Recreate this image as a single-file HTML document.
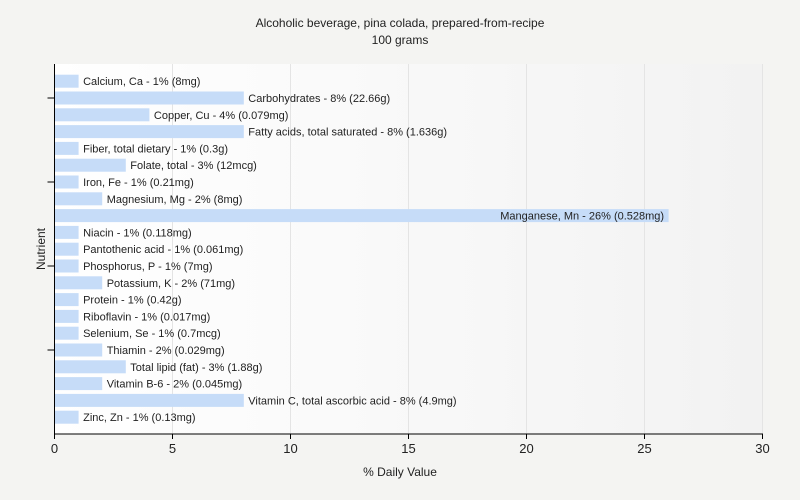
<!DOCTYPE html>
<html><head><meta charset="utf-8"><style>
body{margin:0;background:#f4f4f2;}
svg{display:block;font-family:"Liberation Sans",sans-serif;}
</style></head><body>
<svg id="chart" width="800" height="500" xmlns="http://www.w3.org/2000/svg">
<defs><linearGradient id="bg" x1="0" x2="1" y1="0" y2="0"><stop offset="0" stop-color="#ffffff"/><stop offset="1" stop-color="#f2f2f2"/></linearGradient></defs>
<rect width="800" height="500" fill="#f4f4f2"/>
<text x="400" y="27" text-anchor="middle" font-size="12" fill="#222">Alcoholic beverage, pina colada, prepared-from-recipe</text>
<text x="400" y="44" text-anchor="middle" font-size="12" fill="#222">100 grams</text>
<rect x="54.5" y="64" width="708" height="370" fill="url(#bg)"/>
<g id="grid"></g><g id="bars"></g><g id="axes"></g>
<text x="400" y="476" text-anchor="middle" font-size="12" fill="#222">% Daily Value</text>
<text transform="translate(45,249) rotate(-90)" text-anchor="middle" font-size="12" fill="#222">Nutrient</text>
</svg>
<script>
const categories=["Calcium, Ca","Carbohydrates","Copper, Cu","Fatty acids, total saturated","Fiber, total dietary","Folate, total","Iron, Fe","Magnesium, Mg","Manganese, Mn","Niacin","Pantothenic acid","Phosphorus, P","Potassium, K","Protein","Riboflavin","Selenium, Se","Thiamin","Total lipid (fat)","Vitamin B-6","Vitamin C, total ascorbic acid","Zinc, Zn"];
const values=[1,8,4,8,1,3,1,2,26,1,1,1,2,1,1,1,2,3,2,8,1];
const amounts=["8mg","22.66g","0.079mg","1.636g","0.3g","12mcg","0.21mg","8mg","0.528mg","0.118mg","0.061mg","7mg","71mg","0.42g","0.017mg","0.7mcg","0.029mg","1.88g","0.045mg","4.9mg","0.13mg"];
const xTicks=[0,5,10,15,20,25,30];
const NS="http://www.w3.org/2000/svg";
const x0=54.5,pxPer=23.6,top0=64,bottom=434,step=16.8,bh=13;
const xs=v=>x0+v*pxPer;
const yb=i=>top0+10.7+i*step;
function mk(t,a,p){const e=document.createElementNS(NS,t);for(const k in a)e.setAttribute(k,a[k]);p.appendChild(e);return e;}
const grid=document.getElementById('grid'),bars=document.getElementById('bars'),axes=document.getElementById('axes');
xTicks.forEach(t=>{if(t>0){const l=mk('line',{x1:xs(t),x2:xs(t),y1:top0,y2:bottom,stroke:'#e4e4e4'},grid);

}
const tk=mk('line',{x1:xs(t),x2:xs(t),y1:bottom,y2:bottom+5,stroke:'#000'},axes);


const tl=mk('text',{x:xs(t),y:bottom+19,'text-anchor':'middle','font-size':'13',fill:'#222'},axes);
tl.textContent=t;

});
categories.forEach((c,i)=>{const w=values[i]*pxPer;
const r=mk('rect',{x:x0+0.5,y:yb(i),width:w,height:bh,fill:'#c6dcf8'},bars);


const label=c+' - '+values[i]+'% ('+amounts[i]+')';
const inside=values[i]>20;
const t=mk('text',{x:inside?x0+w-4:x0+w+5,y:yb(i)+10.5,'font-size':'11',fill:'#222','text-anchor':inside?'end':'start'},bars);
t.textContent=label;

});
[1,6,11,16].forEach(k=>{const y=yb(k)+6.5;const l=mk('line',{x1:x0-7,x2:x0,y1:y,y2:y,stroke:'#000'},axes);

});
const ya=mk('line',{x1:x0,x2:x0,y1:top0,y2:bottom,stroke:'#000'},axes);


const xa=mk('line',{x1:x0,x2:xs(30)+0.5,y1:bottom,y2:bottom,stroke:'#000'},axes);


</script>
</body></html>
